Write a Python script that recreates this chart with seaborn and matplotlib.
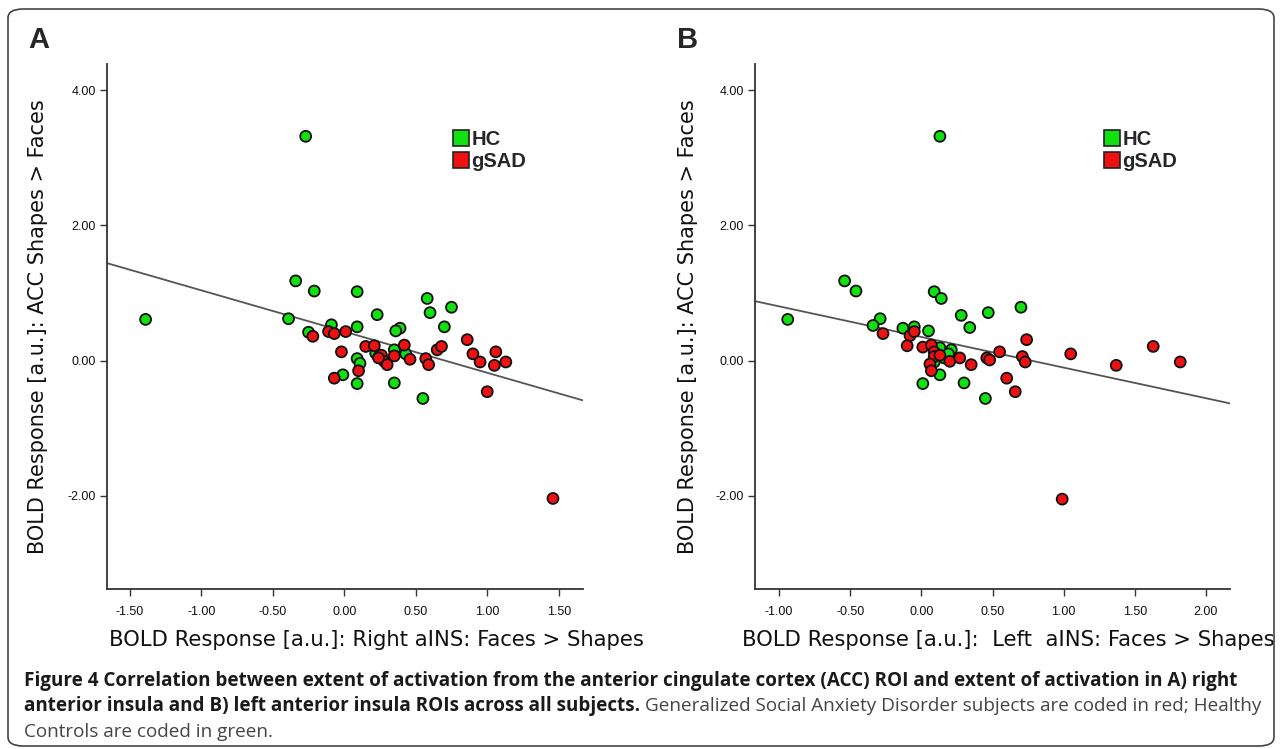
import numpy as np
import pandas as pd
import matplotlib.pyplot as plt
import seaborn as sns
from matplotlib.lines import Line2D
from matplotlib.patches import FancyBboxPatch

# Panel A: right aINS (x) vs ACC (y)
a_hc_x = [-0.27, -1.39, -0.34, -0.21, -0.39, 0.09, 0.58, 0.60, 0.75, 0.23, -0.09, 0.09, 0.39, 0.36,
          0.70, -0.25, 0.09, 0.11, -0.01, 0.09, 0.35, 0.55, 0.35, 0.22, 0.43, 0.24]
a_hc_y = [3.32, 0.61, 1.18, 1.03, 0.62, 1.02, 0.92, 0.71, 0.79, 0.68, 0.53, 0.50, 0.48, 0.44,
          0.50, 0.42, 0.03, -0.04, -0.21, -0.34, -0.33, -0.56, 0.16, 0.11, 0.10, 0.05]
a_sad_x = [1.46, -0.11, -0.07, 0.01, -0.22, -0.02, 0.15, 0.21, -0.07, 0.10, 0.26, 0.28, 0.30, 0.35,
           0.42, 0.46, 0.57, 0.59, 0.65, 0.68, 0.86, 0.90, 0.95, 1.06, 1.05, 1.13, 1.00, 0.24]
a_sad_y = [-2.04, 0.43, 0.40, 0.43, 0.36, 0.13, 0.21, 0.22, -0.26, -0.15, 0.08, -0.01, -0.06, 0.07,
           0.23, 0.02, 0.03, -0.06, 0.16, 0.21, 0.31, 0.10, -0.02, 0.13, -0.07, -0.02, -0.46, 0.04]

# Panel B: left aINS (x) vs ACC (y)
b_hc_x = [0.13, -0.94, -0.54, -0.46, 0.09, 0.14, 0.70, 0.47, 0.28, 0.34, -0.29, -0.34, -0.13, -0.05,
          0.05, 0.13, 0.21, 0.16, 0.09, 0.13, 0.01, 0.30, 0.45, 0.19]
b_hc_y = [3.32, 0.61, 1.18, 1.03, 1.02, 0.92, 0.79, 0.71, 0.67, 0.49, 0.62, 0.52, 0.48, 0.50,
          0.44, 0.19, 0.16, 0.04, -0.02, -0.21, -0.34, -0.33, -0.56, 0.10]
b_sad_x = [0.99, -0.27, -0.08, -0.05, -0.10, 0.01, 0.07, 0.09, 0.09, 0.13, 0.06, 0.07, 0.20, 0.27,
           0.35, 0.46, 0.48, 0.55, 0.60, 0.66, 0.71, 0.73, 0.74, 1.05, 1.37, 1.63, 1.82]
b_sad_y = [-2.05, 0.40, 0.37, 0.43, 0.22, 0.20, 0.23, 0.13, 0.06, 0.08, -0.05, -0.15, -0.01, 0.04,
           -0.06, 0.04, 0.01, 0.13, -0.26, -0.46, 0.06, -0.02, 0.31, 0.10, -0.07, 0.21, -0.02]

# fit lines (intercept, slope) as drawn in the figure
fit_a = (0.43, -0.61)
fit_b = (0.35, -0.453)

groups = ['HC', 'gSAD']
colors = {'HC': '#11e011', 'gSAD': '#ee1111'}

x_labels = ['BOLD Response [a.u.]: Right aINS: Faces > Shapes',
            'BOLD Response [a.u.]:  Left  aINS: Faces > Shapes']
y_label = 'BOLD Response [a.u.]: ACC Shapes > Faces'
a_xticks = [-1.5, -1.0, -0.5, 0.0, 0.5, 1.0, 1.5]
b_xticks = [-1.0, -0.5, 0.0, 0.5, 1.0, 1.5, 2.0]
yticks = [-2.0, 0.0, 2.0, 4.0]

caption_1 = ('Figure 4 Correlation between extent of activation from the anterior cingulate cortex '
             '(ACC) ROI and extent of activation in A) right')
caption_2b = 'anterior insula and B) left anterior insula ROIs across all subjects.'
caption_2 = 'Generalized Social Anxiety Disorder subjects are coded in red; Healthy'
caption_3 = 'Controls are coded in green.'


def make_df(hx, hy, sx, sy):
    return pd.DataFrame({'x': hx + sx, 'y': hy + sy,
                         'group': ['HC'] * len(hx) + ['gSAD'] * len(sx)})


sns.set_theme(style='white')
plt.rcParams['font.family'] = ['Liberation Sans', 'DejaVu Sans']

W, H = 1282, 749
fig = plt.figure(figsize=(W / 100, H / 100), dpi=100)
fig.patches.append(FancyBboxPatch((8 / W, 3 / H), 1266 / W, 737 / H,
                                  boxstyle='round,pad=0,rounding_size=0.012',
                                  transform=fig.transFigure, fill=False,
                                  edgecolor='#444444', linewidth=1.2))

panels = [
    ('A', make_df(a_hc_x, a_hc_y, a_sad_x, a_sad_y), fit_a, (-1.66, 1.67), a_xticks, x_labels[0],
     107, 476, (0.685, 0.908), -0.145, 0.565, 28),
    ('B', make_df(b_hc_x, b_hc_y, b_sad_x, b_sad_y), fit_b, (-1.17, 2.17), b_xticks, x_labels[1],
     755, 475, (0.693, 0.908), -0.141, 0.533, 677),
]

for letter, df, fit, xlim, xticks, xlab, left_px, w_px, leg_anchor, ylab_x, xlab_x, letter_x in panels:
    ax = fig.add_axes([left_px / W, 1 - 589 / H, w_px / W, 525 / H])
    xs = np.array(xlim)
    sns.lineplot(x=xs, y=fit[0] + fit[1] * xs, ax=ax, color='#555555', linewidth=1.3, zorder=1)
    sns.scatterplot(data=df, x='x', y='y', hue='group', palette=colors, hue_order=groups,
                    s=62, edgecolor='#111111', linewidth=1.3, legend=False, ax=ax, zorder=3)
    ax.set_xlim(xlim)
    ax.set_ylim(-3.38, 4.39)
    ax.set_xticks(xticks)
    ax.set_xticklabels([f'{t:.2f}' for t in xticks])
    ax.set_yticks(yticks)
    ax.set_yticklabels([f'{t:.2f}' for t in yticks])
    ax.tick_params(axis='both', direction='out', length=5, width=1, color='#333333',
                   labelsize=9, labelcolor='#111111', bottom=True, left=True)
    ax.tick_params(axis='x', pad=7)
    ax.tick_params(axis='y', pad=3)
    for side in ['top', 'right']:
        ax.spines[side].set_visible(False)
    for side in ['left', 'bottom']:
        ax.spines[side].set_color('#333333')
        ax.spines[side].set_linewidth(1.3)
    ax.set_xlabel(xlab, fontsize=15.2, color='#111111', family=['DejaVu Sans'])
    ax.xaxis.label.set_va('center')
    ax.xaxis.set_label_coords(xlab_x, (589 - 640) / 525)
    ax.set_ylabel(y_label, fontsize=15.0, color='#111111', family=['DejaVu Sans'])
    ax.yaxis.label.set_va('center')
    ax.yaxis.set_label_coords(ylab_x, 0.5)
    handles = [Line2D([0], [0], marker='s', linestyle='', markersize=12,
                      markerfacecolor=colors[g], markeredgecolor='#222222', markeredgewidth=1.2)
               for g in groups]
    ax.legend(handles, groups, loc='upper left', bbox_to_anchor=leg_anchor, frameon=False,
              handletextpad=0.0, labelspacing=0.15, handlelength=1.0,
              prop={'weight': 'bold', 'size': 14.5})
    fig.text(letter_x / W, 1 - 40 / H, letter,
             fontsize=21, fontweight='bold', va='center', ha='left')

# caption, sized so the first line spans the box like the original
cap_font = ['Open Sans', 'DejaVu Sans']
cap_x = 24 / W
t1 = fig.text(cap_x, 1 - 681 / H, caption_1, fontsize=12, fontweight='bold', family=cap_font,
              color='#1a1a1a', va='center', ha='left')
fig.canvas.draw()
cap_size = 12 * 1208 / t1.get_window_extent().width
t1.set_fontsize(cap_size)
t2 = fig.text(cap_x, 1 - 706 / H, caption_2b, fontsize=cap_size, fontweight='bold',
              family=cap_font, color='#1a1a1a', va='center', ha='left')
fig.canvas.draw()
bb = t2.get_window_extent()
fig.text((bb.x1 + 5) / W, 1 - 706 / H, caption_2, fontsize=cap_size, family=cap_font,
         color='#444444', va='center', ha='left')
fig.text(cap_x, 1 - 732 / H, caption_3, fontsize=cap_size, family=cap_font,
         color='#444444', va='center', ha='left')

fig.savefig('out.png', dpi=100)
